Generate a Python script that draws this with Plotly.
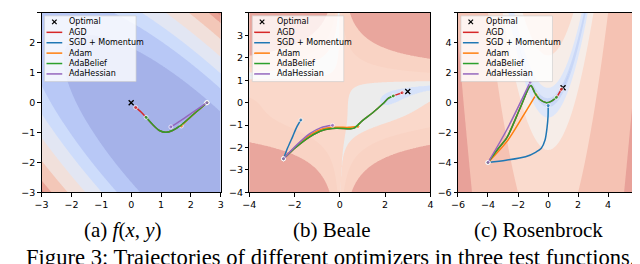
import numpy as np
import plotly.graph_objects as go

# ---------------- data ----------------
optimizers = ["AGD", "SGD + Momentum", "Adam", "AdaBelief", "AdaHessian"]
opt_colors = ["#d62728", "#1f77b4", "#ff7f0e", "#2ca02c", "#9467bd"]
captions = ["(a) <i>f</i>(<i>x</i>, <i>y</i>)", "(b) Beale", "(c) Rosenbrock"]
figure_caption = "Figure 3: Trajectories of different optimizers in three test functions."

# panel (a): f(x, y)
a_optimal_x = [0.0]
a_optimal_y = [0.0]
a_agd_x = [2.54, 2.10, 1.66, 1.385, 1.165, 0.945, 0.726, 0.50, 0.34, 0.15]
a_agd_y = [0.0, -0.38, -0.76, -0.93, -0.99, -0.93, -0.74, -0.49, -0.32, -0.16]
a_sgd_x = [2.54, 2.51]
a_sgd_y = [0.0, -0.02]
a_adam_x = [2.54, 2.10, 1.68]
a_adam_y = [0.0, -0.38, -0.78]
a_adabelief_x = [2.54, 2.10, 1.66, 1.385, 1.165, 0.945, 0.726, 0.50]
a_adabelief_y = [0.0, -0.38, -0.76, -0.93, -0.99, -0.93, -0.74, -0.49]
a_adahessian_x = [2.54, 2.10, 1.66, 1.33]
a_adahessian_y = [0.0, -0.30, -0.60, -0.81]

# panel (b): Beale
b_optimal_x = [3.0]
b_optimal_y = [0.5]
b_agd_x = [-2.49, -1.91, -1.33, -0.75, -0.17, 0.48, 0.65, 1.0, 1.45, 1.9, 2.15, 2.36, 2.55, 2.75]
b_agd_y = [-2.5, -1.96, -1.52, -1.23, -1.14, -1.16, -1.12, -0.8, -0.45, -0.05, 0.2, 0.3, 0.37, 0.44]
b_sgd_x = [-2.49, -2.3, -2.08, -1.9, -1.72]
b_sgd_y = [-2.5, -2.0, -1.5, -1.08, -0.77]
b_adam_x = [-2.49, -1.91, -1.33, -0.8, -0.2, 0.4, 0.8]
b_adam_y = [-2.5, -1.92, -1.45, -1.18, -1.1, -1.1, -1.06]
b_adabelief_x = [-2.49, -1.91, -1.33, -0.75, -0.17, 0.48, 0.65, 1.0, 1.45, 1.9, 2.15, 2.36]
b_adabelief_y = [-2.5, -1.96, -1.52, -1.23, -1.14, -1.16, -1.12, -0.8, -0.45, -0.05, 0.2, 0.3]
b_adahessian_x = [-2.49, -1.91, -1.33, -0.83, -0.32]
b_adahessian_y = [-2.5, -1.89, -1.38, -1.11, -1.01]

# panel (c): Rosenbrock
c_optimal_x = [1.0]
c_optimal_y = [1.0]
c_agd_x = [-4.0, -3.3, -2.72, -1.85, -1.15, -0.87, -0.54, -0.1, 0.23, 0.56, 0.72, 0.89]
c_agd_y = [-4.0, -3.05, -2.3, -0.34, 1.15, 0.64, 0.21, -0.01, 0.1, 0.36, 0.6, 0.9]
c_sgd_x = [-4.0, -2.8, -1.5, -0.8, -0.45, -0.2, -0.07, 0.0, 0.01]
c_sgd_y = [-4.0, -3.85, -3.62, -3.3, -3.05, -2.5, -1.7, -0.9, -0.19]
c_adam_x = [-4.0, -2.72, -1.7, -0.8]
c_adam_y = [-4.0, -2.57, -0.95, 0.54]
c_adabelief_x = [-4.0, -3.3, -2.72, -1.85, -1.15, -0.87, -0.54, -0.1, 0.23, 0.56]
c_adabelief_y = [-4.0, -3.05, -2.3, -0.34, 1.15, 0.64, 0.21, -0.01, 0.1, 0.36]
c_adahessian_x = [-4.0, -2.72, -1.19]
c_adahessian_y = [-4.0, -1.76, 1.37]

# background contour bands (thresholds and band colours)
a_levels = [7.4, 12.4, 16.4, 21.4, 27.5, 33.8, 36.8]
a_band_colors = ["rgb(165,178,233)", "rgb(184,200,246)", "rgb(205,220,251)", "rgb(226,230,243)",
                 "rgb(241,224,219)", "rgb(243,199,184)", "rgb(234,163,150)", "rgb(226,143,133)"]
b_levels = [0, 1, 2, 3]  # log10 of Beale
b_band_colors = ["rgb(214,226,250)", "rgb(236,236,236)", "rgb(250,216,202)", "rgb(249,211,196)",
                 "rgb(233,166,157)"]
c_levels = [0, 1, 2, 3, 4, 5]  # log10 of Rosenbrock
c_band_colors = ["rgb(188,205,246)", "rgb(202,216,247)", "rgb(221,230,249)", "rgb(246,237,232)",
                 "rgb(250,219,206)", "rgb(245,194,179)", "rgb(232,161,153)"]

# ---------------- layout geometry (pixels) ----------------
W, H = 640, 264
panel_px = [(27, 209), (238, 422), (450, 633)]
top_px, bottom_px = 5, 188
ranges = [(-3, 3), (-4, 4), (-6, 6)]
xdticks = [1, 2, 2]
ydticks = [1, 1, 2]


def px2paper(px, py):
    return px / W, 1 - py / H


def band_contour(xs, ys, field, thresholds, band_colors, xa, ya):
    n = len(thresholds)
    lo = min(float(field.min()), thresholds[0]) - 1.0
    hi = max(float(field.max()), thresholds[-1]) + 1.0
    knots = [lo] + list(thresholds) + [hi]
    v = np.interp(field, knots, list(range(n + 2)))
    scale = []
    for k, c in enumerate(band_colors):
        a = max(0.0, (k - 0.5) / n)
        b = min(1.0, (k + 0.5) / n)
        scale.append([a, c])
        scale.append([b, c])
    return go.Contour(x=xs, y=ys, z=np.round(v, 3), xaxis=xa, yaxis=ya,
                      autocontour=False,
                      contours=dict(start=1, end=n, size=1, coloring="fill", showlines=False),
                      colorscale=scale, showscale=False, line=dict(width=0),
                      hoverinfo="skip")


N = 241
fig = go.Figure()

# panel a surface
xa_ = np.linspace(-3, 3, N)
Xa, Ya = np.meshgrid(xa_, xa_)
Za = (Xa + Ya) ** 2 + (Xa - Ya - 4.5) ** 2 / 10
fig.add_trace(band_contour(xa_, xa_, Za, a_levels, a_band_colors, "x", "y"))

# panel b surface (Beale)
xb_ = np.linspace(-4, 4, N)
Xb, Yb = np.meshgrid(xb_, xb_)
Zb = (1.5 - Xb + Xb * Yb) ** 2 + (2.25 - Xb + Xb * Yb ** 2) ** 2 + (2.625 - Xb + Xb * Yb ** 3) ** 2
fig.add_trace(band_contour(xb_, xb_, np.log10(Zb + 1e-12), b_levels, b_band_colors, "x2", "y2"))

# panel c surface (Rosenbrock)
xc_ = np.linspace(-6, 6, N)
Xc, Yc = np.meshgrid(xc_, xc_)
Zc = (1 - Xc) ** 2 + 100 * (Yc - Xc ** 2) ** 2
fig.add_trace(band_contour(xc_, xc_, np.log10(Zc + 1e-12), c_levels, c_band_colors, "x3", "y3"))

panel_data = [
    (a_optimal_x, a_optimal_y, [(a_agd_x, a_agd_y), (a_sgd_x, a_sgd_y), (a_adam_x, a_adam_y),
                                (a_adabelief_x, a_adabelief_y), (a_adahessian_x, a_adahessian_y)]),
    (b_optimal_x, b_optimal_y, [(b_agd_x, b_agd_y), (b_sgd_x, b_sgd_y), (b_adam_x, b_adam_y),
                                (b_adabelief_x, b_adabelief_y), (b_adahessian_x, b_adahessian_y)]),
    (c_optimal_x, c_optimal_y, [(c_agd_x, c_agd_y), (c_sgd_x, c_sgd_y), (c_adam_x, c_adam_y),
                                (c_adabelief_x, c_adabelief_y), (c_adahessian_x, c_adahessian_y)]),
]

axis_names = [("x", "y"), ("x2", "y2"), ("x3", "y3")]
for (ox, oy, paths), (xa, ya) in zip(panel_data, axis_names):
    fig.add_trace(go.Scatter(x=ox, y=oy, mode="markers", xaxis=xa, yaxis=ya,
                             marker=dict(symbol="x-thin", size=5, color="black",
                                         line=dict(width=1.3, color="black")),
                             hoverinfo="skip"))
    for (px_, py_), col in zip(paths, opt_colors):
        sizes = [0] * len(px_)
        sizes[0] = 4
        sizes[-1] = 4
        fig.add_trace(go.Scatter(x=px_, y=py_, mode="lines+markers", xaxis=xa, yaxis=ya,
                                 line=dict(color=col, width=1.5, shape="spline", smoothing=0.8),
                                 marker=dict(size=sizes, color=col),
                                 hoverinfo="skip"))

# axes
layout_axes = {}
for i, ((l, r), (lo, hi)) in enumerate(zip(panel_px, ranges)):
    sx = "" if i == 0 else str(i + 1)
    common = dict(showline=True, mirror=True, linecolor="black", linewidth=0.8,
                  ticks="outside", ticklen=3.5, tickwidth=0.8, tickcolor="black",
                  showgrid=False, zeroline=False, range=[lo, hi],
                  tickfont=dict(family="DejaVu Sans", size=9.5, color="black"))
    layout_axes["xaxis" + sx] = dict(domain=[l / W, r / W], anchor="y" + sx,
                                     tick0=lo, dtick=xdticks[i], **common)
    layout_axes["yaxis" + sx] = dict(domain=[1 - bottom_px / H, 1 - top_px / H], anchor="x" + sx,
                                     tick0=lo, dtick=ydticks[i], **common)

shapes = []
annotations = []
legend_labels = ["Optimal"] + optimizers
for i, (l, r) in enumerate(panel_px):
    x0, y0 = px2paper(l + 3, 8)
    x1, y1 = px2paper(l + 96, 75)
    shapes.append(dict(type="rect", xref="paper", yref="paper", x0=x0, y0=y0, x1=x1, y1=y1,
                       fillcolor="rgba(255,255,255,0.8)", line=dict(color="rgba(204,204,204,0.8)", width=0.8)))
    for j, lab in enumerate(legend_labels):
        cy = 14.2 + 10.6 * j
        if j == 0:
            cx = l + 13
            for s in (1, -1):
                ax0, ay0 = px2paper(cx - 2.3, cy - 2.3 * s)
                ax1, ay1 = px2paper(cx + 2.3, cy + 2.3 * s)
                shapes.append(dict(type="line", xref="paper", yref="paper", x0=ax0, y0=ay0, x1=ax1, y1=ay1,
                                   line=dict(color="black", width=1.2)))
        else:
            lx0, ly = px2paper(l + 5, cy)
            lx1, _ = px2paper(l + 21, cy)
            shapes.append(dict(type="line", xref="paper", yref="paper", x0=lx0, y0=ly, x1=lx1, y1=ly,
                               line=dict(color=opt_colors[j - 1], width=1.5)))
        tx, ty = px2paper(l + 26, cy)
        annotations.append(dict(text=lab, x=tx, y=ty, xref="paper", yref="paper",
                                xanchor="left", yanchor="middle", showarrow=False,
                                font=dict(family="DejaVu Sans", size=8, color="black")))

caption_centers = [110, 322, 532]
for cap, cxp in zip(captions, caption_centers):
    tx, ty = px2paper(cxp, 226)
    annotations.append(dict(text=cap, x=tx, y=ty, xref="paper", yref="paper",
                            xanchor="center", yanchor="middle", showarrow=False,
                            font=dict(family="Liberation Serif", size=21, color="black")))
tx, ty = px2paper(321, 254.5)
annotations.append(dict(text=figure_caption, x=tx, y=ty, xref="paper", yref="paper",
                        xanchor="center", yanchor="middle", showarrow=False,
                        font=dict(family="Liberation Serif", size=22.6, color="black")))

fig.update_layout(width=W, height=H, margin=dict(l=0, r=0, t=0, b=0),
                  paper_bgcolor="white", plot_bgcolor="white", showlegend=False,
                  font=dict(family="DejaVu Sans"), shapes=shapes, annotations=annotations,
                  **layout_axes)

fig.write_html("out.html")
